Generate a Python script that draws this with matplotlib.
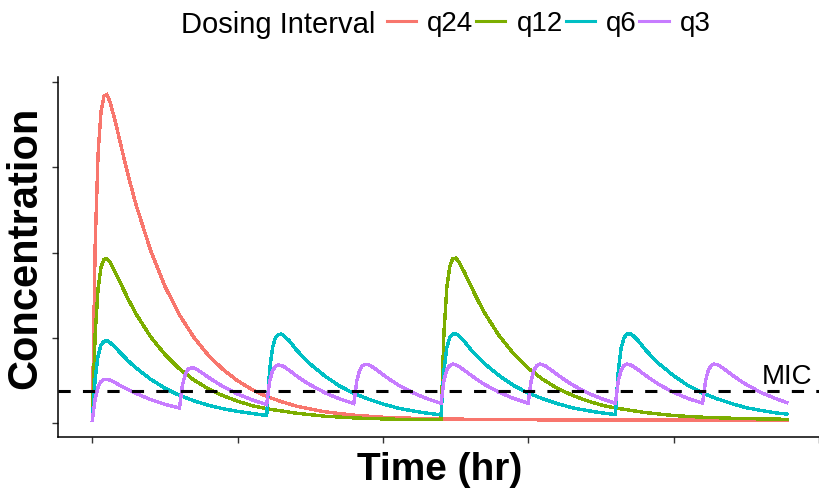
import matplotlib
matplotlib.use("Agg")
import matplotlib.pyplot as plt
import numpy as np
from matplotlib.lines import Line2D

plt.rcParams['font.family'] = ['Liberation Sans', 'DejaVu Sans']

# dose times (hr) for each regimen
labels = ['q24', 'q12', 'q6', 'q3']
colors = ['#F8766D', '#7CAE00', '#00BFC4', '#C77CFF']
doses = {'q24': [0], 'q12': [0, 12], 'q6': [0, 6, 12, 18], 'q3': [0, 3, 6, 9, 12, 15, 18, 21]}
t_end = 23.9

# sample times after each dose (hr)
offsets = {
    'q24': [0, .1, .2, .3, .4, .5, .6, .8, 1, 1.25, 1.5, 2, 2.5, 3, 3.5, 4, 4.5, 5, 5.5,
            6, 6.5, 7, 7.5, 8, 9, 10, 11, 12, 14, 16, 18, 20, 22],
    'q12': [0, .1, .2, .3, .4, .5, .6, .8, 1, 1.25, 1.5, 2, 2.5, 3, 3.5, 4, 4.5, 5, 5.5,
            6, 7, 8, 9, 10, 11],
    'q6': [0, .1, .2, .3, .4, .5, .6, .8, 1, 1.25, 1.5, 2, 2.5, 3, 3.5, 4, 4.5, 5, 5.5],
    'q3': [0, .1, .2, .3, .4, .5, .6, .8, 1, 1.25, 1.5, 2, 2.5],
}

# concentrations
c_q24 = [0.8, 52.7, 79.2, 91.4, 95.9, 96.4, 94.5, 88.2, 80.9, 72.2, 64.2, 50.8, 40.1, 31.7,
         25.1, 19.8, 15.7, 12.4, 9.8, 7.8, 6.3, 5.0, 4.1, 3.3, 2.3, 1.7, 1.4, 1.2, 1.0, 0.9,
         0.9, 0.85, 0.8, 0.8]
c_q12 = [0.8, 26.3, 39.6, 45.7, 48.0, 48.2, 47.3, 44.1, 40.5, 36.1, 32.1, 25.4, 20.1, 15.9,
         12.6, 10.0, 8.0, 6.4, 5.1, 4.2, 2.9, 2.0, 1.5, 1.2, 1.0,
         1.0, 26.5, 39.8, 45.9, 48.2, 48.4, 47.5, 44.3, 40.7, 36.3, 32.3, 25.6, 20.3, 16.1,
         12.8, 10.2, 8.2, 6.6, 5.3, 4.4, 3.1, 2.2, 1.7, 1.4, 1.2,
         1.1]
c_q6 = [0.8, 13.2, 19.8, 22.9, 24.0, 24.2, 23.7, 22.1, 20.3, 18.1, 16.2, 12.9, 10.2, 8.1, 6.5, 5.2, 4.2, 3.4, 2.8,
        2.2, 15.4, 22.0, 25.0, 26.0, 26.1, 25.6, 23.9, 21.7, 19.4, 17.3, 13.8, 10.9, 8.7, 7.0, 5.6, 4.4, 3.6, 2.9,
        2.4, 15.5, 22.1, 25.1, 26.1, 26.2, 25.7, 24.0, 21.8, 19.5, 17.4, 13.9, 11.0, 8.8, 7.1, 5.7, 4.5, 3.7, 3.0,
        2.5, 15.5, 22.1, 25.1, 26.1, 26.2, 25.7, 24.0, 21.8, 19.5, 17.4, 13.9, 11.0, 8.8, 7.1, 5.7, 4.5, 3.7, 3.0,
        2.6]
c_q3 = [0.8, 7.2, 10.6, 12.2, 12.8, 12.8, 12.6, 11.8, 10.8, 9.7, 8.7, 6.9, 5.5,
        4.4, 11.1, 14.3, 15.8, 16.2, 16.1, 15.7, 14.6, 13.4, 12.0, 10.7, 8.5, 6.8,
        5.4, 12.1, 15.3, 16.6, 17.0, 16.9, 16.5, 15.3, 14.0, 12.5, 11.2, 8.9, 7.1,
        5.7, 12.3, 15.5, 16.9, 17.2, 17.1, 16.7, 15.5, 14.2, 12.7, 11.3, 9.0, 7.2,
        5.8, 12.4, 15.6, 16.9, 17.3, 17.1, 16.7, 15.5, 14.2, 12.7, 11.3, 9.0, 7.2,
        5.8, 12.4, 15.6, 16.9, 17.3, 17.1, 16.7, 15.5, 14.2, 12.7, 11.3, 9.0, 7.2,
        5.8, 12.4, 15.6, 16.9, 17.3, 17.1, 16.7, 15.5, 14.2, 12.7, 11.3, 9.0, 7.2,
        5.8, 12.4, 15.6, 16.9, 17.3, 17.1, 16.7, 15.5, 14.2, 12.7, 11.3, 9.0, 7.2,
        6.0]
conc = {'q24': c_q24, 'q12': c_q12, 'q6': c_q6, 'q3': c_q3}

mic = 9.5


def sample_times(name):
    t = [np.asarray(offsets[name]) + d for d in doses[name]]
    return np.concatenate(t + [np.array([t_end])])


fig = plt.figure(figsize=(8.2, 4.93), dpi=100)
ax = fig.add_axes([58 / 820, 1 - 436.5 / 493, 1 - 58 / 820, (436.5 - 77) / 493])

for name, col in zip(labels, colors):
    ax.plot(sample_times(name), conc[name], color=col, lw=1.7, antialiased=False,
            solid_joinstyle='miter')

ax.axhline(mic, color='black', lw=2.2, dashes=(4, 4))
ax.text(23.9, mic + 2.0, 'MIC', fontsize=20, ha='center', va='baseline')

ax.set_xlim(-1.18, 25.04)
ax.set_ylim(-3.96, 101.55)
ax.set_xticks([0, 5, 10, 15, 20, 25])
ax.set_yticks([0, 25, 50, 75, 100])
ax.set_xticklabels([])
ax.set_yticklabels([])
ax.tick_params(length=4, width=1, color='#333333')
for s in ['top', 'right']:
    ax.spines[s].set_visible(False)
for s in ['left', 'bottom']:
    ax.spines[s].set_linewidth(1.1)

fig.text(440 / 820, 1 - 480 / 493, 'Time (hr)', fontsize=28, fontweight='bold',
         ha='center', va='baseline')
fig.text(25 / 820, 1 - 248 / 493, 'Concentration', fontsize=30, fontweight='bold',
         rotation=90, ha='center', va='center')

# legend across the top
fig.text(375 / 820, 1 - 33.3 / 493, 'Dosing Interval', fontsize=21, ha='right', va='baseline')
handles = [Line2D([], [], color=c, lw=2.2) for c in colors]
fig.legend(handles, labels, ncol=4, loc='center left', bbox_to_anchor=(387 / 820, 1 - 24 / 493),
           frameon=False, fontsize=20, handlelength=1.05, handletextpad=0.4,
           columnspacing=0.1, borderpad=0, borderaxespad=0)

fig.savefig('out.png', dpi=100)
